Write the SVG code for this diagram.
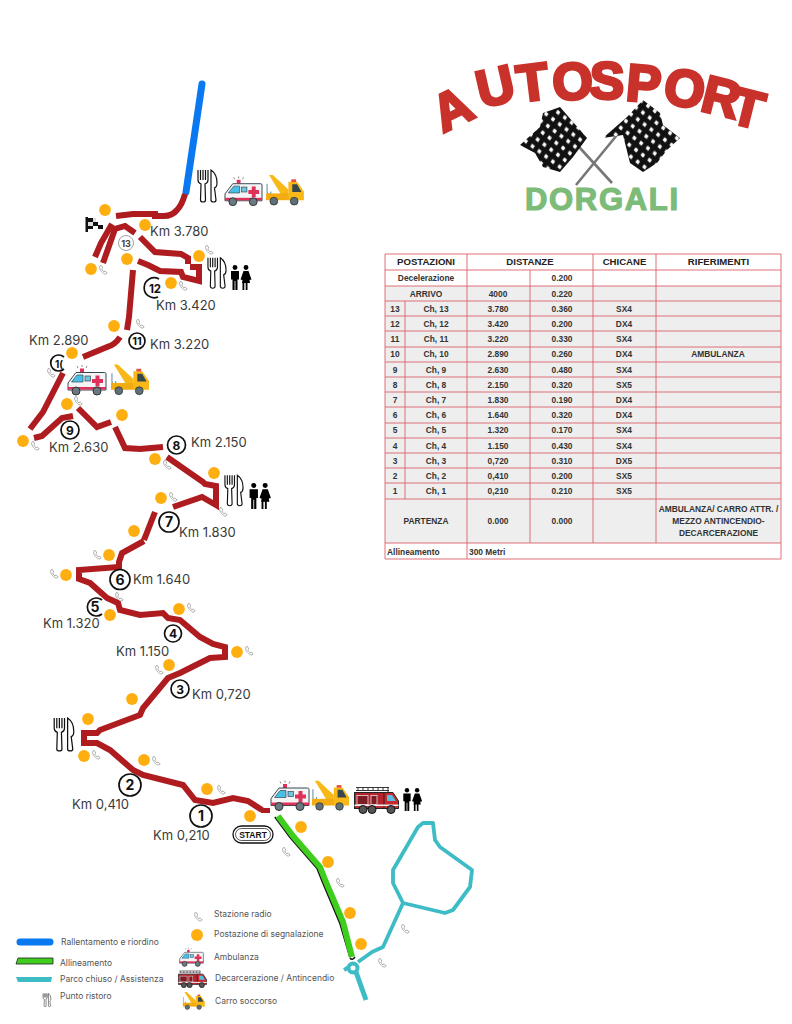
<svg xmlns="http://www.w3.org/2000/svg" width="792" height="1024" viewBox="0 0 792 1024">
<style>
.trk{fill:none;stroke:#ae1c20;stroke-width:6;stroke-linejoin:miter}
.blue{fill:none;stroke:#0a78f0;stroke-width:7;stroke-linecap:round}
.teal{fill:none;stroke:#3dbcc6;stroke-width:3.800;stroke-linejoin:round}
.km{font:400 13px "Inter","Liberation Sans",sans-serif;fill:#3a3a3a}
.num{font:700 12px "Inter","Liberation Sans",sans-serif;fill:#111;text-anchor:middle}
.big{font-size:14px}
.ring{fill:#fff;stroke:#111;stroke-width:1.700}
.arc{fill:none;stroke:#111;stroke-width:1.700}
.lg{font:400 8.500px "Inter","Liberation Sans",sans-serif;fill:#555}
.t{font:700 8.400px "Liberation Sans",sans-serif;fill:#333;text-anchor:middle}
.th{font:700 9.600px "Liberation Sans",sans-serif;fill:#222;text-anchor:middle}
.dot{fill:#ffae10}
.ln{fill:none;stroke:#d8606c;stroke-width:.9}
</style>
<defs>
<symbol id="dt" viewBox="0 0 12 12"><circle class="dot" cx="6" cy="6" r="5.900"/></symbol>
<symbol id="ph" viewBox="0 0 10 10"><path d="M2 .8C.6 3 3 7.600 7.200 9.200L9.200 8 7.200 5.900 6 6.800C5 6.200 4.100 5 3.800 3.900L4.800 3 3.300.4Z" fill="#fff" stroke="#9a9a9a" stroke-width=".8"/></symbol>
<symbol id="amb" viewBox="0 0 40 32">
<path d="M15 1v2M10 2l1 2M20 2l-1 2" stroke="#555" stroke-width=".7"/>
<rect x="13" y="4.500" width="4" height="4" fill="#e0315a"/>
<path d="M1 26V19L9 8.500H37.500Q39 8.500 39 10V26Z" fill="#f2f4f6" stroke="#3b4750"/>
<path d="M4.500 18L10 11H16V18Z" fill="#47c0e8" stroke="#3b4750" stroke-width=".7"/>
<rect x="18" y="12" width="5.500" height="5" fill="#6fc4e0" stroke="#3b4750" stroke-width=".7"/>
<path d="M28.500 11.500h4v3.500h3.500v4h-3.500v3.500h-4v-3.500h-3.500v-4h3.500z" fill="#e0315a"/>
<rect x="1" y="23" width="38" height="2.600" fill="#e0315a"/>
<circle cx="9" cy="27" r="4" fill="#6a7a82" stroke="#333"/><circle cx="30" cy="27" r="4" fill="#6a7a82" stroke="#333"/>
</symbol>
<symbol id="tow" viewBox="0 0 40 32">
<path d="M2 9V17Q2 20 4 20Q6 20 6 17" fill="none" stroke="#6e9ab0" stroke-width="1.200"/>
<path d="M4 0L8 0L24 15V21H17Z" fill="#f7b818"/>
<rect x="1" y="19" width="24" height="7" fill="#f2ab10"/>
<path d="M24 7H33L40 17V26H24Z" fill="#f7b818"/>
<path d="M28 9.500H33L37.500 17.500H28Z" fill="#37474f"/>
<rect x="27" y="4.500" width="5" height="2.800" fill="#e8503a"/>
<circle cx="9" cy="27" r="4" fill="#5f6f77" stroke="#333" stroke-width=".8"/><circle cx="30" cy="27" r="4" fill="#5f6f77" stroke="#333" stroke-width=".8"/>
</symbol>
<symbol id="fire" viewBox="0 0 45 28">
<path d="M2 1.500H35M2 4.500H35M4 1.500V4.500M9 1.500V4.500M14 1.500V4.500M19 1.500V4.500M24 1.500V4.500M29 1.500V4.500M34 1.500V8" stroke="#222" fill="none" stroke-width=".9"/>
<rect x="0.500" y="6.500" width="30" height="16" fill="#b5232c" stroke="#222"/>
<rect x="3" y="9.500" width="11" height="9" fill="#7d1c24" stroke="#e8e0e0" stroke-width=".8"/>
<rect x="17" y="9.500" width="6" height="9" fill="#7d1c24" stroke="#e8e0e0" stroke-width=".8"/>
<path d="M30 6.500H39L44.500 15V22.500H30Z" fill="#c8282f" stroke="#222"/>
<path d="M33 9H38L42 15H33Z" fill="#55bfe0"/>
<rect x="0.500" y="18.500" width="44" height="1.600" fill="#eee"/>
<circle cx="9" cy="23.500" r="4" fill="#555" stroke="#111"/><circle cx="18" cy="23.500" r="4" fill="#555" stroke="#111"/><circle cx="37" cy="23.500" r="4" fill="#555" stroke="#111"/>
</symbol>
<symbol id="cut" viewBox="0 0 21 34">
<path d="M1 1V11Q1 14 4 15L3.500 31Q3.500 33 6 33Q8.500 33 8.500 31L8 15Q11 14 11 11V1" fill="#fff" stroke="#111" stroke-width="1.200"/>
<path d="M3.500 1V11M6 1V11M8.500 1V11" stroke="#111" stroke-width="1.200"/>
<path d="M14 1Q20 5 20 14Q20 18 17.500 19L19 31Q19 33 16.500 33Q14 33 14 31Z" fill="#fff" stroke="#111" stroke-width="1.200"/>
</symbol>
<symbol id="wc" viewBox="0 0 22 25">
<circle cx="5" cy="2.500" r="2.400"/><path d="M1 6H9V14.500H7.500V25H5.400V16H4.600V25H2.500V14.500H1Z"/>
<circle cx="16" cy="2.500" r="2.400"/><path d="M13.500 6H18.500L21.500 14.500 19.500 15 20 18H17.500V25H15.700V18H14.300V25H12.500V18H12L12.500 15 10.500 14.500Z"/>
</symbol>
<pattern id="chk" width="12" height="12" patternUnits="userSpaceOnUse" patternTransform="rotate(-8)">
<rect width="12" height="12" fill="#111"/><path d="M3 .3L5.300 3 3 5.700.7 3ZM9 6.300L11.300 9 9 11.700 6.700 9Z" fill="#fff"/>
</pattern>
</defs>
<rect width="792" height="1024" fill="#fff"/>

<g id="connectors">
<path class="blue" d="M202 84L186 192"/>
<path class="trk" d="M185 194Q182 205 177 210Q172 216 164 216H155V214H133L116 216"/>
<path class="trk" d="M112 224L101 243L95 257"/>
<path class="trk" d="M103 263L115 229L125 226L135 233"/>
<path class="trk" d="M140 237L155 252L181 254L188 258V264"/>
<path class="trk" d="M190 267H199V281L183 277L181 272L160 271L148 265L138 261"/>
<path class="trk" d="M133 270L129 317L127 330"/>
<path class="trk" d="M120 337Q115 345 107 347L83 357"/>
<path class="trk" d="M63 373L43 412L30 429"/>
<path class="trk" d="M34 438L42 436L62 418L73 416"/>
<path class="trk" d="M78 408L97 427L111 422"/>
<path class="trk" d="M115 427L125 448L140 449L163 447"/>
<path class="trk" d="M167 457L203 482L205 484L216 486V505L202 497L173 507"/>
<path class="trk" d="M155 512L144 540"/>
<path class="trk" d="M144 541L122 553L119 562V567L79 570V579L90 583L107 598L118 603L120 610L140 615L163 613L168 618L180 620L200 637L213 644L225 647V657L210 658L180 673L168 678L143 708L140 715L100 730L97 733L84 733V743H97L110 750L133 770L143 775L183 785L195 800L213 803L233 798L248 801L262 810"/>
<path d="M261 808H270V813H261Z" fill="#ae1c20"/>
<path d="M275 817L290 837L317 868L323 883L340 923L350 957" fill="none" stroke="#111" stroke-width="2"/>
<path d="M278 816L293 836L320 867L326 882L343 922L352 957" fill="none" stroke="#3fce1e" stroke-width="6"/>
<path d="M350 958Q352 961 355 957" fill="none" stroke="#111" stroke-width="1.500"/>
<path class="teal" d="M403 903L393 883V870L418 827L423 823H433L435 840L440 847L472 870L470 887L453 910L445 913L403 903L383 947L372 952L358 962"/>
<circle cx="353" cy="968" r="4.500" fill="none" stroke="#3dbcc6" stroke-width="4"/>
<path d="M349 967L344 970" fill="none" stroke="#3dbcc6" stroke-width="3.800"/>
<path d="M356 972L366 1000" fill="none" stroke="#3dbcc6" stroke-width="5"/>
</g>

<g id="signal-posts">
<use href="#dt" x="99" y="204" width="12" height="12"/><use href="#dt" x="139" y="219" width="12" height="12"/><use href="#dt" x="193" y="250" width="12" height="12"/><use href="#dt" x="85" y="263" width="12" height="12"/><use href="#dt" x="121" y="253" width="12" height="12"/><use href="#dt" x="165" y="277" width="12" height="12"/><use href="#dt" x="108" y="320" width="12" height="12"/><use href="#dt" x="66" y="347" width="12" height="12"/>
<use href="#dt" x="61" y="398" width="12" height="12"/><use href="#dt" x="116" y="409" width="12" height="12"/><use href="#dt" x="17" y="435" width="12" height="12"/><use href="#dt" x="149" y="453" width="12" height="12"/><use href="#dt" x="208" y="467" width="12" height="12"/><use href="#dt" x="155" y="492" width="12" height="12"/><use href="#dt" x="128" y="525" width="12" height="12"/><use href="#dt" x="103" y="549" width="12" height="12"/><use href="#dt" x="60" y="569" width="12" height="12"/><use href="#dt" x="104" y="609" width="12" height="12"/><use href="#dt" x="173" y="603" width="12" height="12"/>
<use href="#dt" x="231" y="646" width="12" height="12"/><use href="#dt" x="163" y="659" width="12" height="12"/><use href="#dt" x="126" y="693" width="12" height="12"/><use href="#dt" x="82" y="713" width="12" height="12"/><use href="#dt" x="78" y="750" width="12" height="12"/><use href="#dt" x="138" y="754" width="12" height="12"/><use href="#dt" x="201" y="783" width="12" height="12"/><use href="#dt" x="244" y="810" width="12" height="12"/><use href="#dt" x="295" y="821" width="12" height="12"/><use href="#dt" x="322" y="856" width="12" height="12"/><use href="#dt" x="344" y="907" width="12" height="12"/><use href="#dt" x="355" y="938" width="12" height="12"/>
</g>

<g id="radio-stations">
<use href="#ph" x="98" y="265" width="10" height="10"/><use href="#ph" x="204" y="245" width="10" height="10"/><use href="#ph" x="178" y="281" width="10" height="10"/><use href="#ph" x="135" y="319" width="10" height="10"/><use href="#ph" x="46" y="368" width="10" height="10"/><use href="#ph" x="73" y="396" width="10" height="10"/><use href="#ph" x="30" y="441" width="10" height="10"/><use href="#ph" x="162" y="460" width="10" height="10"/><use href="#ph" x="168" y="492" width="10" height="10"/><use href="#ph" x="218" y="507" width="10" height="10"/><use href="#ph" x="92" y="550" width="10" height="10"/><use href="#ph" x="49" y="569" width="10" height="10"/><use href="#ph" x="114" y="592" width="10" height="10"/><use href="#ph" x="186" y="603" width="10" height="10"/>
<use href="#ph" x="244" y="646" width="10" height="10"/><use href="#ph" x="154" y="665" width="10" height="10"/><use href="#ph" x="91" y="750" width="10" height="10"/><use href="#ph" x="151" y="756" width="10" height="10"/><use href="#ph" x="216" y="785" width="10" height="10"/><use href="#ph" x="281" y="847" width="10" height="10"/><use href="#ph" x="335" y="878" width="10" height="10"/><use href="#ph" x="400" y="924" width="10" height="10"/><use href="#ph" x="377" y="958" width="10" height="10"/>
</g>

<g id="service-icons">
<use href="#cut" x="197" y="169" width="21" height="34"/>
<use href="#amb" x="224" y="175" width="39" height="32"/><use href="#tow" x="265" y="175" width="39" height="31"/>
<use href="#cut" x="207" y="256" width="20" height="34"/><use href="#wc" x="230" y="265" width="22" height="25"/>
<use href="#amb" x="67" y="364" width="40" height="32"/><use href="#tow" x="110" y="364" width="39" height="32"/>
<use href="#cut" x="224" y="473" width="20" height="35"/><use href="#wc" x="248" y="483" width="24" height="26"/>
<use href="#cut" x="53" y="717" width="22" height="35"/>
<use href="#amb" x="270" y="779" width="40" height="33"/><use href="#tow" x="311" y="780" width="38" height="32"/><use href="#fire" x="354" y="786" width="45" height="28"/><use href="#wc" x="402" y="788" width="21" height="23"/>
</g>

<g id="finish-flag">
<rect x="85.500" y="217" width="2.500" height="15" fill="#111"/>
<path d="M88 218H93V222H88ZM93 222H98V226H93ZM88 226H93V229H88ZM98 225H103V229H98Z" fill="#111"/>
<path d="M93 218H96V222H93ZM88 222H93V226H88Z" fill="#ddd"/>
</g>

<g id="start-badge">
<rect x="233" y="826" width="40" height="17" rx="8.500" fill="#fff" stroke="#111" stroke-width="1.300"/>
<rect x="235.500" y="828.500" width="35" height="12" rx="6" fill="none" stroke="#111" stroke-width=".7"/>
<text x="253" y="838" style="font:700 8.500px 'Liberation Sans',sans-serif;fill:#111;text-anchor:middle">START</text>
</g>

<g id="chicane-1"><circle class="ring" cx="201" cy="816" r="11"/><text class="num big" x="201" y="821">1</text><text class="km" x="153" y="840">Km 0,210</text></g>
<g id="chicane-2"><circle class="ring" cx="130" cy="785" r="11"/><text class="num big" x="130" y="790">2</text><text class="km" x="72" y="809">Km 0,410</text></g>
<g id="chicane-3"><circle class="ring" cx="180" cy="689" r="9"/><text class="num" x="180" y="693.500">3</text><text class="km" x="192" y="699">Km 0,720</text></g>
<g id="chicane-4"><circle class="ring" cx="173" cy="633.500" r="8.500"/><text class="num" x="173" y="638">4</text><text class="km" x="116" y="656">Km 1.150</text></g>
<g id="chicane-5"><path class="arc" d="M102 600A9 9 0 1 0 102 614"/><text class="num big" x="95" y="612">5</text><text class="km" x="43" y="628">Km 1.320</text></g>
<g id="chicane-6"><circle class="ring" cx="120" cy="579.500" r="10"/><text class="num big" x="120" y="584.500">6</text><text class="km" x="133" y="584">Km 1.640</text></g>
<g id="chicane-7"><circle class="ring" cx="169" cy="522" r="10"/><text class="num big" x="169" y="527">7</text><text class="km" x="179" y="537">Km 1.830</text></g>
<g id="chicane-8"><circle class="ring" cx="176.500" cy="445" r="9"/><text class="num" x="176.500" y="449.500">8</text><text class="km" x="191" y="447">Km 2.150</text></g>
<g id="chicane-9"><circle class="ring" cx="70" cy="430" r="9"/><text class="num" x="70" y="434.500">9</text><text class="km" x="49" y="452">Km 2.630</text></g>
<g id="chicane-10"><path class="arc" d="M64 357A8 8 0 1 0 64 369"/><text class="num" x="59" y="367.500" style="font-size:10px">1(</text><text class="km" x="29" y="345">Km 2.890</text></g>
<g id="chicane-11"><circle class="ring" cx="137" cy="341" r="8"/><text class="num" x="137" y="345" style="font-size:11px">11</text><text class="km" x="150" y="349">Km 3.220</text></g>
<g id="chicane-12"><path class="arc" d="M159 279A10 10 0 1 0 158 297"/><text class="num" x="155" y="293" style="font-size:11.500px">12</text><text class="km" x="156" y="310">Km 3.420</text></g>
<g id="chicane-13"><circle cx="126" cy="243" r="7.500" fill="#fff" stroke="#888" stroke-width=".8"/><text class="num" x="126" y="246.500" style="font-size:9px;fill:#444">13</text><text class="km" x="150" y="236">Km 3.780</text></g>

<g id="logo">
<path d="M548 113L612 183M640 107L576 185" stroke="#777" stroke-width="2.600"/>
<path d="M543 113L560 107L587 138L573 157L560 172L543 167L535 153L520 145L540 127Z" fill="url(#chk)"/>
<path d="M643 100L660 113L663 125L680 138L667 150L657 163L643 172L630 163L623 135L603 138L627 117Z" fill="url(#chk)"/>
<text x="443 481 519 553 589 625 662 699 728" y="133 108 102 100 98 100 103 110 122" rotate="-26 -13 -7 -2 2 5 9 14 14" style="font:700 52px 'Liberation Sans',sans-serif;fill:#c8322b;stroke:#c8322b;stroke-width:3">AUTOSPORT</text>
<text x="525" y="210" textLength="153" style="font:700 31px 'Liberation Sans',sans-serif;fill:#7dbb79;stroke:#7dbb79;stroke-width:1.200">DORGALI</text>
</g>

<g id="table">
<rect x="385" y="286" width="396" height="257" fill="#eee"/>
<path class="ln" d="M385 254H781V559H385ZM385 270H781M385 286H781M385 301H781M385 316H781M385 331H781M385 347H781M385 362H781M385 377H781M385 392H781M385 407H781M385 423H781M385 438H781M385 453H781M385 468H781M385 483H781M385 499H781M385 543H781M467 254V559M530 270V543M593 254V543M656 254V543M405 301V499"/>
<text class="th" x="426" y="265">POSTAZIONI</text><text class="th" x="530" y="265">DISTANZE</text><text class="th" x="624.500" y="265">CHICANE</text><text class="th" x="718.500" y="265">RIFERIMENTI</text>
<text class="t" x="426" y="281">Decelerazione</text><text class="t" x="562" y="281">0.200</text>
<text class="t" x="426" y="297">ARRIVO</text><text class="t" x="498" y="297">4000</text><text class="t" x="562" y="297">0.220</text>
<text class="t" x="395" y="312">13</text><text class="t" x="436" y="312">Ch, 13</text><text class="t" x="498" y="312">3.780</text><text class="t" x="562" y="312">0.360</text><text class="t" x="624" y="312">SX4</text>
<text class="t" x="395" y="327">12</text><text class="t" x="436" y="327">Ch, 12</text><text class="t" x="498" y="327">3.420</text><text class="t" x="562" y="327">0.200</text><text class="t" x="624" y="327">DX4</text>
<text class="t" x="395" y="342">11</text><text class="t" x="436" y="342">Ch, 11</text><text class="t" x="498" y="342">3.220</text><text class="t" x="562" y="342">0.330</text><text class="t" x="624" y="342">SX4</text>
<text class="t" x="395" y="357">10</text><text class="t" x="436" y="357">Ch, 10</text><text class="t" x="498" y="357">2.890</text><text class="t" x="562" y="357">0.260</text><text class="t" x="624" y="357">DX4</text><text class="t" x="718" y="357">AMBULANZA</text>
<text class="t" x="395" y="373">9</text><text class="t" x="436" y="373">Ch, 9</text><text class="t" x="498" y="373">2.630</text><text class="t" x="562" y="373">0.480</text><text class="t" x="624" y="373">SX4</text>
<text class="t" x="395" y="388">8</text><text class="t" x="436" y="388">Ch, 8</text><text class="t" x="498" y="388">2.150</text><text class="t" x="562" y="388">0.320</text><text class="t" x="624" y="388">SX5</text>
<text class="t" x="395" y="403">7</text><text class="t" x="436" y="403">Ch, 7</text><text class="t" x="498" y="403">1.830</text><text class="t" x="562" y="403">0.190</text><text class="t" x="624" y="403">DX4</text>
<text class="t" x="395" y="418">6</text><text class="t" x="436" y="418">Ch, 6</text><text class="t" x="498" y="418">1.640</text><text class="t" x="562" y="418">0.320</text><text class="t" x="624" y="418">DX4</text>
<text class="t" x="395" y="433">5</text><text class="t" x="436" y="433">Ch, 5</text><text class="t" x="498" y="433">1.320</text><text class="t" x="562" y="433">0.170</text><text class="t" x="624" y="433">SX4</text>
<text class="t" x="395" y="449">4</text><text class="t" x="436" y="449">Ch, 4</text><text class="t" x="498" y="449">1.150</text><text class="t" x="562" y="449">0.430</text><text class="t" x="624" y="449">SX4</text>
<text class="t" x="395" y="464">3</text><text class="t" x="436" y="464">Ch, 3</text><text class="t" x="498" y="464">0,720</text><text class="t" x="562" y="464">0.310</text><text class="t" x="624" y="464">DX5</text>
<text class="t" x="395" y="479">2</text><text class="t" x="436" y="479">Ch, 2</text><text class="t" x="498" y="479">0,410</text><text class="t" x="562" y="479">0.200</text><text class="t" x="624" y="479">SX5</text>
<text class="t" x="395" y="494">1</text><text class="t" x="436" y="494">Ch, 1</text><text class="t" x="498" y="494">0,210</text><text class="t" x="562" y="494">0.210</text><text class="t" x="624" y="494">SX5</text>
<text class="t" x="426" y="524">PARTENZA</text><text class="t" x="498" y="524">0.000</text><text class="t" x="562" y="524">0.000</text>
<text class="t" x="718.500" y="512">AMBULANZA/ CARRO ATTR. /</text><text class="t" x="718.500" y="524">MEZZO ANTINCENDIO-</text><text class="t" x="718.500" y="536">DECARCERAZIONE</text>
<text class="t" x="387" y="555" style="text-anchor:start">Allineamento</text><text class="t" x="469" y="555" style="text-anchor:start">300 Metri</text>
</g>

<g id="legend">
<path d="M20 942H50" stroke="#0a78f0" stroke-width="7" stroke-linecap="round"/>
<path d="M16 964L18 958H53V964Z" fill="#3fce1e" stroke="#222" stroke-width=".8"/>
<path d="M16 977H52L51 982H18Z" fill="#3dbcc6"/>
<use href="#cut" x="42" y="993" width="10" height="14"/>
<use href="#ph" x="193" y="912" width="10" height="10"/>
<circle class="dot" cx="197" cy="935" r="6"/>
<use href="#amb" x="179" y="947" width="25" height="20"/><use href="#fire" x="178" y="970" width="29" height="18"/><use href="#tow" x="181" y="992" width="25" height="18"/>
<text class="lg" x="61" y="945">Rallentamento e riordino</text>
<text class="lg" x="60" y="966">Allineamento</text>
<text class="lg" x="60" y="982">Parco chiuso / Assistenza</text>
<text class="lg" x="60" y="999">Punto ristoro</text>
<text class="lg" x="214" y="917">Stazione radio</text>
<text class="lg" x="214" y="937">Postazione di segnalazione</text>
<text class="lg" x="214" y="960">Ambulanza</text>
<text class="lg" x="215" y="981">Decarcerazione / Antincendio</text>
<text class="lg" x="215" y="1004">Carro soccorso</text>
</g>
</svg>
